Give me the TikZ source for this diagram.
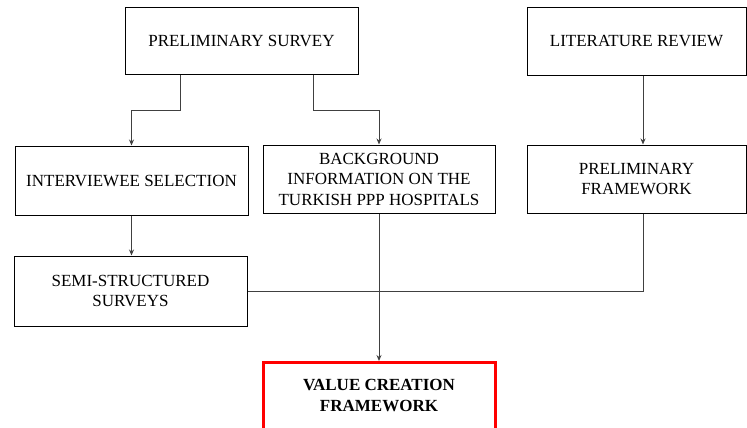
\documentclass[tikz,border=0pt]{standalone}
\usepackage{fontspec}
\setmainfont{Liberation Serif}
\usetikzlibrary{arrows.meta}
\definecolor{linegray}{HTML}{404040}
\begin{document}
\begin{tikzpicture}[x=1pt,y=-1pt,
  every node/.style={font=\fontsize{17}{20.5}\selectfont, align=center, inner sep=0pt},
  box/.style={draw=black, line width=1pt, rectangle},
  redbox/.style={draw=red, line width=3pt, rectangle},
  conn/.style={draw=linegray, line width=1pt},
  arr/.style={conn, -{Stealth[length=6pt,width=5pt]}}]
\useasboundingbox (0,0) rectangle (747,428);
\node[box, minimum width=233pt, minimum height=67pt] (ps) at (241.5,41.5) {PRELIMINARY SURVEY};
\node[box, minimum width=219pt, minimum height=68pt] (lr) at (636.5,41.5) {LITERATURE REVIEW};
\node[box, minimum width=233pt, minimum height=69pt] (is) at (131.5,180.5) {INTERVIEWEE SELECTION};
\node[box, minimum width=232pt, minimum height=68pt] (bg) at (379,179) {BACKGROUND\\INFORMATION ON THE\\TURKISH PPP HOSPITALS};
\node[box, minimum width=219pt, minimum height=68pt] (pf) at (636.5,179) {PRELIMINARY\\FRAMEWORK};
\node[box, minimum width=233pt, minimum height=70pt] (ss) at (130.5,291) {SEMI-STRUCTURED\\SURVEYS};
\node[redbox, minimum width=232pt, minimum height=72pt, anchor=north] (vc) at (379,361) {};
\node[font=\fontsize{17}{20.5}\selectfont\bfseries] (vct) at (379,395.5) {VALUE CREATION\\FRAMEWORK};
\draw[arr] ([xshift=-61.5pt]ps.south) -- ++(0,35) -| (is.north);
\draw[arr] ([xshift=71.5pt]ps.south) -- ++(0,35) -| (bg.north);
\draw[arr] ([xshift=6.5pt]lr.south) -- ([xshift=6.5pt]pf.north);
\draw[arr] (is.south) -- (is.south |- ss.north);
\draw[arr] (bg.south) -- (vc.north);
\draw[conn] (ss.east) -| ([xshift=6.5pt]pf.south);
\end{tikzpicture}
\end{document}
